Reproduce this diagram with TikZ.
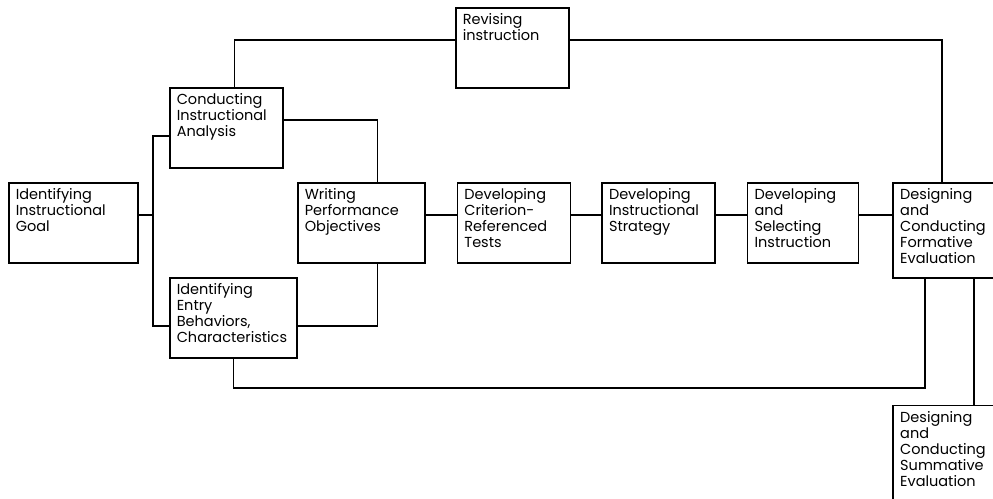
\documentclass[tikz,border=0pt]{standalone}
\usepackage{fontspec}
\setmainfont{Poppins}
\usetikzlibrary{positioning}

\begin{document}
\begin{tikzpicture}[x=1pt,y=-1pt,line width=1.6pt,
                stage/.style={draw,rectangle,anchor=north west,align=left,
                  font=\fontsize{14.5}{16}\selectfont,
                  inner xsep=7pt,inner ysep=6pt,
                  text height=11pt,text depth=57pt}]
	\clip (0,0) rectangle (993,498);

	\node[stage,text width=115pt] (goal) at (8,182) {Identifying\\Instructional\\Goal};
	\node[stage,text width=99pt] (conducting) at (169,87) {Conducting\\Instructional\\Analysis};
	\node[stage,text width=113pt] (entry) at (169,277) {Identifying\\Entry\\Behaviors,\\Characteristics};
	\node[stage,text width=113pt] (writing) at (297,182) {Writing\\Performance\\Objectives};
	\node[stage,text width=99pt] (criterion) [right=31pt of writing.north east,anchor=north west] {Developing\\Criterion-\\Referenced\\Tests};
	\node[stage,text width=99pt] (strategy) [right=30pt of criterion.north east,anchor=north west] {Developing\\Instructional\\Strategy};
	\node[stage,text width=97pt] (selecting) [right=31pt of strategy.north east,anchor=north west] {Developing\\and\\Selecting\\Instruction};
	\node[stage,text width=110pt,text depth=72pt] (formative) [right=33pt of selecting.north east,anchor=north west] {Designing\\and\\Conducting\\Formative\\Evaluation};
	\node[stage,text width=110pt,text depth=100pt] (summative) [below=126pt of formative.south west,anchor=north west] {Designing\\and\\Conducting\\Summative\\Evaluation};
	\node[stage,text width=99pt] (revising) at (455,7) {Revising\\instruction};

	\coordinate (spine) at (0,215);
	\coordinate (split) at (153,215);
	\coordinate (low) at (0,388);

	% main line
	\draw (goal.east |- spine) -- (split);
	\draw (writing.east |- spine) -- (criterion.west |- spine);
	\draw (criterion.east |- spine) -- (strategy.west |- spine);
	\draw (strategy.east |- spine) -- (selecting.west |- spine);
	\draw (selecting.east |- spine) -- (formative.west |- spine);

	% branches
	\draw ([yshift=-8pt]conducting.west) -| (split) |- ([yshift=-8pt]entry.west);
	\draw ([yshift=8pt]conducting.east) -| ([xshift=16pt]writing.north);
	\draw ([yshift=-8pt]entry.east) -| ([xshift=16pt]writing.south);

	% revision loops
	\draw ([xshift=8pt]conducting.north) |- ([yshift=8pt]revising.west);
	\draw ([yshift=8pt]revising.east) -| ([xshift=-13pt]formative.north);
	\draw (entry.south) -- (entry.south |- low) -| ([xshift=-30pt]formative.south);
	\draw ([xshift=19pt]formative.south) -- ([xshift=19pt]formative.south |- summative.north);
\end{tikzpicture}
\end{document}
